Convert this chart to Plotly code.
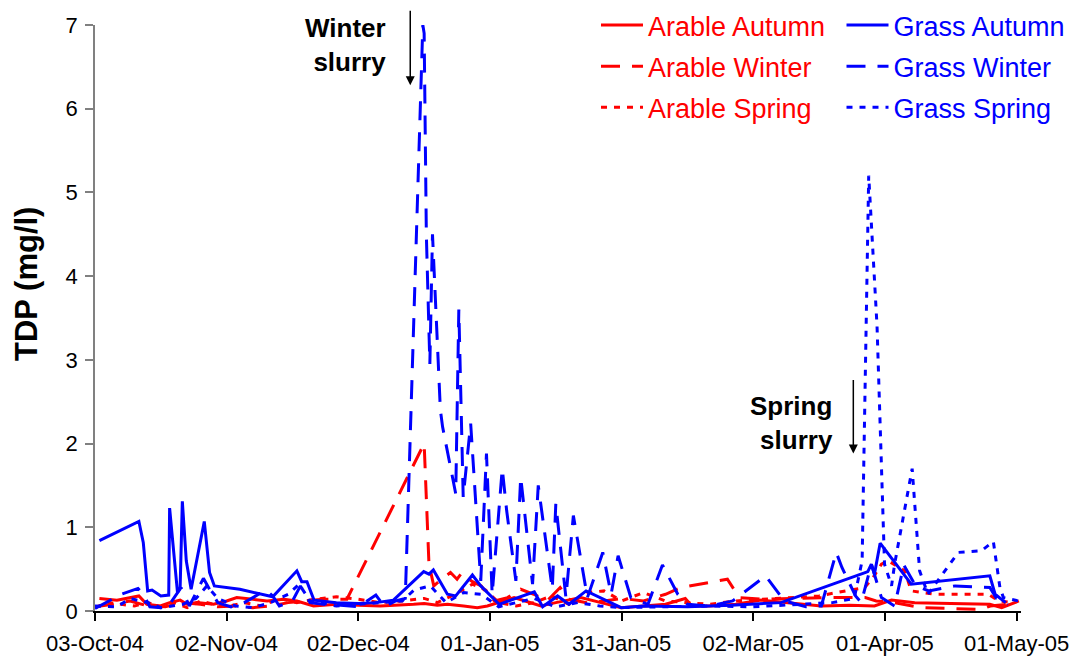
import pandas as pd
import plotly.graph_objects as go

FONT = "Liberation Sans, Arial, sans-serif"
RED = "#FF0000"
BLUE = "#0000FF"

# Sampling times are given in days after 3 Oct 2004; TDP in mg/l
START = pd.Timestamp("2004-10-03")

arable_autumn_day = [1, 5, 10, 11.8, 14.9, 17, 19.4, 21, 23.2, 27, 30, 32.3, 36, 39.2, 43, 46, 49.8, 55, 60, 65,
                     72.6, 75, 78, 80.3, 84, 87.1, 89.4, 92, 95.5, 98, 101.6, 105, 110.7, 115.3, 119.9, 125, 130,
                     134.5, 136, 140, 146, 151.8, 158, 165.5, 172, 177.6, 181.5, 186.8, 195, 203.9, 206.6, 210.5]
arable_autumn_tdp = [0.15, 0.13, 0.18, 0.08, 0.06, 0.1, 0.13, 0.08, 0.1, 0.08, 0.12, 0.16, 0.14, 0.12, 0.14, 0.12,
                     0.06, 0.08, 0.07, 0.06, 0.08, 0.09, 0.07, 0.08, 0.06, 0.04, 0.06, 0.1, 0.16, 0.12, 0.06, 0.1,
                     0.16, 0.1, 0.04, 0.06, 0.08, 0.15, 0.06, 0.06, 0.08, 0.13, 0.1, 0.06, 0.07, 0.06, 0.13, 0.1,
                     0.09, 0.08, 0.04, 0.12]

arable_winter_day = [0, 4, 8, 12, 16, 20, 24, 28, 32, 36, 40, 44, 48, 52, 57.4, 75, 76.1, 77.2, 79, 81, 82.5, 83.5,
                     86, 88, 89.5, 91, 94, 97, 100, 103, 106, 108, 112, 116, 120, 125, 130, 133.5, 144.1, 146.8,
                     152, 160, 166, 175.5, 178, 182, 188.3, 195, 202, 204, 208]
arable_winter_tdp = [0.05, 0.08, 0.12, 0.06, 0.05, 0.1, 0.08, 0.05, 0.06, 0.04, 0.06, 0.1, 0.12, 0.14, 0.14, 2.0,
                     0.56, 0.3, 0.38, 0.46, 0.38, 0.45, 0.35, 0.3, 0.2, 0.12, 0.16, 0.26, 0.2, 0.12, 0.28, 0.14,
                     0.1, 0.12, 0.15, 0.12, 0.2, 0.28, 0.38, 0.16, 0.14, 0.15, 0.16, 0.16, 0.12, 0.1, 0.04, 0.03,
                     0.02, 0.06, 0.08]

arable_spring_day = [0, 3, 6, 9, 12, 15, 18, 21, 24, 27, 30, 34, 38, 42, 46, 50, 55, 60, 65, 70, 75, 78, 82, 86,
                     89, 92, 96, 100, 104, 108, 112, 116, 120, 125, 130, 135, 140, 146, 152, 158, 165, 172, 175.4,
                     177.3, 179.2, 180.7, 184.5, 186, 191.4, 197, 203.5, 206, 209]
arable_spring_tdp = [0.04, 0.1, 0.08, 0.06, 0.1, 0.05, 0.1, 0.04, 0.12, 0.08, 0.05, 0.1, 0.06, 0.15, 0.1, 0.14,
                     0.17, 0.14, 0.1, 0.12, 0.15, 0.1, 0.2, 0.32, 0.25, 0.1, 0.06, 0.1, 0.18, 0.08, 0.22, 0.24,
                     0.12, 0.22, 0.12, 0.1, 0.08, 0.12, 0.14, 0.16, 0.18, 0.25, 0.28, 0.4, 0.56, 0.6, 0.48, 0.24,
                     0.2, 0.2, 0.2, 0.12, 0.1]

grass_autumn_day = [1, 10, 11, 12, 13, 15, 16.8, 17, 18.8, 19.4, 19.9, 20.8, 21.9, 24.9, 26.1, 27.2, 33, 40.5, 46,
                    47.1, 48.3, 49.9, 55, 60, 64, 68, 74.9, 76.1, 77.1, 80.3, 82.2, 86, 87.9, 92.1, 100.1, 102,
                    105.4, 108, 111.9, 119.9, 125, 135, 145, 156.3, 175, 176.1, 176.9, 177.6, 178.9, 186, 203.9,
                    205.1, 207.5]
grass_autumn_tdp = [0.84, 1.07, 0.82, 0.24, 0.25, 0.18, 0.19, 1.23, 0.22, 0.28, 1.31, 0.6, 0.26, 1.07, 0.46, 0.3,
                    0.26, 0.17, 0.48, 0.35, 0.35, 0.13, 0.1, 0.09, 0.1, 0.13, 0.47, 0.44, 0.49, 0.2, 0.18, 0.43,
                    0.3, 0.08, 0.23, 0.05, 0.18, 0.08, 0.24, 0.04, 0.06, 0.05, 0.07, 0.1, 0.45, 0.47, 0.56, 0.44,
                    0.81, 0.32, 0.42, 0.2, 0.1]

grass_winter_day = [0, 3, 6, 9.8, 11, 12.5, 15, 17, 19.6, 21.5, 24.7, 26.2, 28, 31, 34, 36, 38.9, 40.5, 42, 45,
                    46.8, 49, 52, 56, 60, 64, 66, 68.5, 70.7, 74.7, 75.0, 75.5, 76.0, 76.3, 76.9, 77.9, 78.7, 79.2,
                    82.2, 82.9, 83.9, 85.6, 87.9, 89.2, 90.5, 92.8, 93.8, 95.9, 97, 99.7, 101, 104.2, 105, 107.3,
                    109, 112.2, 115.7, 117.6, 119.2, 122.1, 126, 129.3, 132.8, 135, 140, 145.3, 152.8, 157.1, 162,
                    165.5, 168.9, 170.2, 173.3, 174.6, 176.9, 179.2, 182.2, 184.3, 187, 190, 196, 203.9, 205.4, 208]
grass_winter_tdp = [0.03, 0.12, 0.2, 0.27, 0.2, 0.05, 0.04, 0.08, 0.28, 0.06, 0.39, 0.25, 0.1, 0.05, 0.1, 0.16,
                    0.25, 0.18, 0.06, 0.12, 0.3, 0.1, 0.08, 0.07, 0.05, 0.19, 0.05, 0.12, 0.15, 7.0, 6.9, 4.5, 3.4,
                    2.95, 4.5, 3.35, 2.4, 2.2, 1.4, 3.6, 1.36, 2.24, 0.36, 1.88, 0.2, 1.7, 1.2, 0.36, 1.6, 0.32,
                    1.5, 0.26, 1.28, 0.16, 1.14, 0.16, 0.7, 0.2, 0.66, 0.16, 0.08, 0.55, 0.2, 0.08, 0.06, 0.12,
                    0.42, 0.12, 0.05, 0.06, 0.7, 0.52, 0.18, 0.1, 0.56, 0.16, 0.06, 0.55, 0.3, 0.24, 0.3, 0.28,
                    0.15, 0.08]

grass_spring_day = [0, 5, 8, 12, 15, 20, 23, 25.5, 28, 32, 36, 40, 44, 46.5, 49, 55, 60, 65, 70, 72.7, 76.4, 80,
                    84, 88, 92, 96, 100, 105, 110, 115, 120, 130, 140, 150, 160, 168, 173, 174.8, 176.3, 178.2,
                    179.9, 181.5, 182.2, 186.2, 187.9, 189.8, 196.7, 202, 204.7, 205.4, 206.2, 207, 210.4]
grass_spring_tdp = [0.06, 0.05, 0.15, 0.1, 0.04, 0.08, 0.15, 0.3, 0.15, 0.06, 0.04, 0.1, 0.2, 0.32, 0.12, 0.06,
                    0.08, 0.1, 0.12, 0.25, 0.3, 0.1, 0.22, 0.2, 0.05, 0.1, 0.15, 0.05, 0.1, 0.06, 0.04, 0.05,
                    0.06, 0.05, 0.08, 0.1, 0.15, 0.6, 5.2, 3.4, 0.56, 0.3, 0.56, 1.7, 0.48, 0.2, 0.7, 0.72, 0.83,
                    0.56, 0.28, 0.16, 0.12]

tick_dates = ["2004-10-03", "2004-11-02", "2004-12-02", "2005-01-01", "2005-01-31", "2005-03-02", "2005-04-01",
              "2005-05-01"]
tick_labels = ["03-Oct-04", "02-Nov-04", "02-Dec-04", "01-Jan-05", "31-Jan-05", "02-Mar-05", "01-Apr-05",
               "01-May-05"]

DASH_WINTER = "19px,12px"
DASH_SPRING = "6px,7px"

series = [
    ("Arable Autumn", arable_autumn_day, arable_autumn_tdp, RED, "solid", "legend"),
    ("Arable Winter", arable_winter_day, arable_winter_tdp, RED, DASH_WINTER, "legend"),
    ("Arable Spring", arable_spring_day, arable_spring_tdp, RED, DASH_SPRING, "legend"),
    ("Grass Autumn", grass_autumn_day, grass_autumn_tdp, BLUE, "solid", "legend2"),
    ("Grass Winter", grass_winter_day, grass_winter_tdp, BLUE, DASH_WINTER, "legend2"),
    ("Grass Spring", grass_spring_day, grass_spring_tdp, BLUE, DASH_SPRING, "legend2"),
]

fig = go.Figure()
for name, days, tdp, color, dash, leg in series:
    fig.add_trace(go.Scatter(
        x=START + pd.to_timedelta(days, unit="D"),
        y=tdp,
        mode="lines",
        name=name,
        legend=leg,
        legendgroup=name,
        line=dict(color=color, width=3, dash=dash),
    ))

W, H = 1077, 659
ML, MR, MT, MB = 95, 56, 25, 48
PW, PH = W - ML - MR, H - MT - MB


def px_x(p):
    return (p - ML) / PW


def px_y(p):
    return (H - MB - p) / PH


legend_common = dict(
    xanchor="left", yanchor="top", orientation="v",
    bgcolor="rgba(0,0,0,0)", borderwidth=0, tracegroupgap=3, itemwidth=42,
)

fig.update_layout(
    width=W, height=H,
    margin=dict(l=ML, r=MR, t=MT, b=MB, autoexpand=False),
    paper_bgcolor="white", plot_bgcolor="white",
    font=dict(family=FONT, size=22, color="black"),
    showlegend=True,
    legend=dict(x=px_x(596), y=px_y(1), font=dict(family=FONT, size=27, color=RED), **legend_common),
    legend2=dict(x=px_x(841.5), y=px_y(1), font=dict(family=FONT, size=27, color=BLUE), **legend_common),
    xaxis=dict(
        type="date",
        range=["2004-10-03", "2005-05-02"],
        tickvals=tick_dates, ticktext=tick_labels,
        ticks="outside", ticklen=8, tickwidth=1.5, tickcolor="black",
        ticklabelstandoff=4,
        showline=True, linecolor="black", linewidth=1.5,
        showgrid=False, zeroline=False,
        tickfont=dict(family=FONT, size=22, color="black"),
    ),
    yaxis=dict(
        range=[0, 7], tickmode="linear", tick0=0, dtick=1,
        ticks="outside", ticklen=8, tickwidth=1.5, tickcolor="#808080",
        ticklabelstandoff=3,
        showline=True, linecolor="#808080", linewidth=1.5,
        showgrid=False, zeroline=False,
        tickfont=dict(family=FONT, size=22, color="black"),
    ),
    annotations=[
        dict(text="<b>TDP (mg/l)</b>", xref="paper", yref="paper", x=px_x(26), y=px_y(284),
             xanchor="center", yanchor="middle", textangle=-90, showarrow=False,
             font=dict(family=FONT, size=31, color="black")),
        dict(text="<b>Winter<br>slurry</b>", xref="paper", yref="paper", x=px_x(388), y=px_y(45),
             xanchor="right", yanchor="middle", align="right", showarrow=False,
             font=dict(family=FONT, size=26, color="black")),
        dict(text="<b>Spring<br>slurry</b>", xref="paper", yref="paper", x=px_x(835), y=px_y(423),
             xanchor="right", yanchor="middle", align="right", showarrow=False,
             font=dict(family=FONT, size=26, color="black")),
        dict(text="", x="2004-12-13 20:00", y=6.28, xref="x", yref="y", ax=0, ay=-76,
             showarrow=True, arrowhead=2, arrowsize=1.2, arrowwidth=1.5, arrowcolor="black", standoff=0),
        dict(text="", x="2005-03-24 19:00", y=1.88, xref="x", yref="y", ax=0, ay=-75,
             showarrow=True, arrowhead=2, arrowsize=1.2, arrowwidth=1.5, arrowcolor="black", standoff=0),
    ],
)

fig.write_html("out.html")
